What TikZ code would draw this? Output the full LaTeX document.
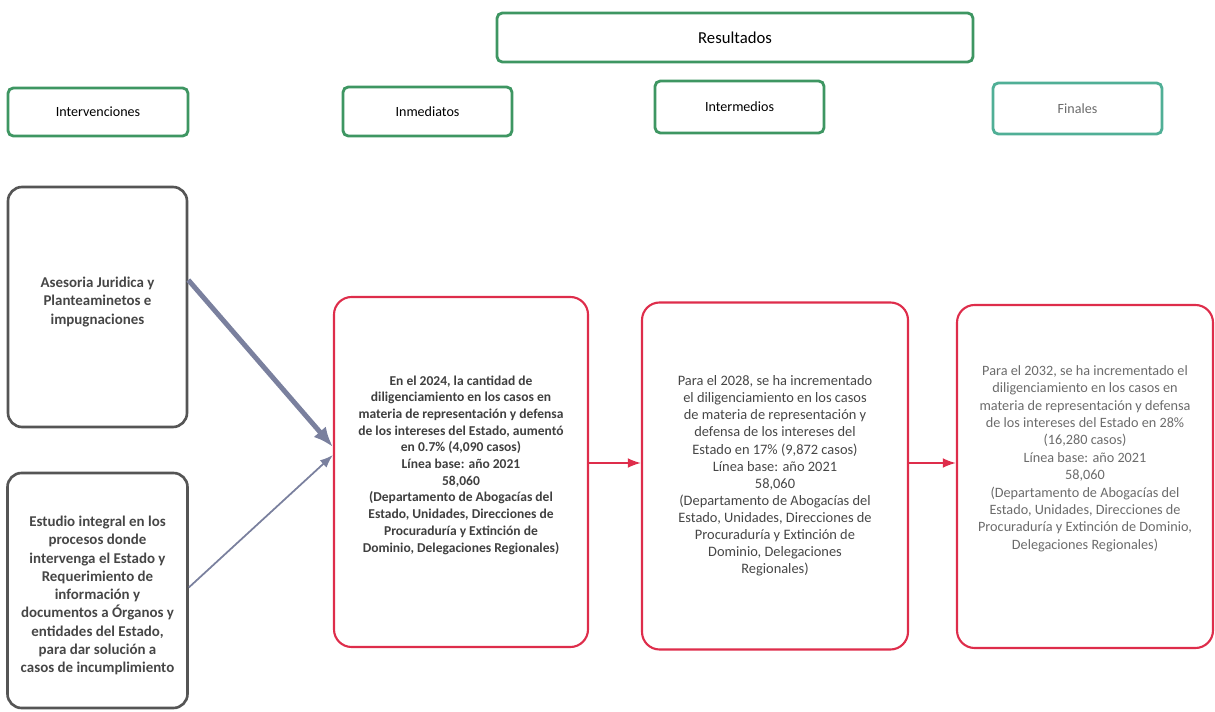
\documentclass[tikz,border=0pt]{standalone}
\usepackage{fontspec}
\setmainfont{Carlito}
\usetikzlibrary{positioning,arrows.meta}
\definecolor{hdrgreen}{RGB}{62,150,98}
\definecolor{fingreen}{RGB}{80,175,150}
\definecolor{intgray}{RGB}{85,85,85}
\definecolor{resred}{RGB}{222,45,75}
\definecolor{arrgray}{RGB}{122,128,158}
\definecolor{txtgray}{RGB}{70,70,70}
\begin{document}
\begin{tikzpicture}[font=\fontsize{8}{9.6}\selectfont,>=Latex,
      hdr/.style={draw=hdrgreen,line width=1.6pt,rounded corners=3pt,fill=white,align=center,inner sep=0pt},
      intbox/.style={draw=intgray,line width=1.5pt,rounded corners=8pt,align=center,inner sep=0pt,text=txtgray},
      resbox/.style={draw=resred,line width=1.2pt,rounded corners=10pt,align=center,inner sep=0pt,text=txtgray}]
    \useasboundingbox (0,0) rectangle (24.3,-14.24);
    % cabeceras
    \node[hdr,minimum width=95.2mm,minimum height=9.8mm,font=\fontsize{9.5}{11}\selectfont] (res) at (14.7,-0.75) {Resultados};
    \node[hdr,minimum width=36mm,minimum height=9.6mm] (interv) at (1.96,-2.24) {Intervenciones};
    \node[hdr,minimum width=33.8mm,minimum height=9.8mm] (inmed) at (8.55,-2.23) {Inmediatos};
    \node[hdr,minimum width=33.8mm,minimum height=10.4mm] (intermed) at (14.79,-2.14) {Intermedios};
    \node[hdr,draw=fingreen,minimum width=33.8mm,minimum height=10.2mm,text=txtgray!80] (finales) at (21.55,-2.17) {Finales};
    % intervenciones
    \node[intbox,minimum width=35.8mm,minimum height=48mm] (aseso) at (1.95,-6.14) {};
    \node[align=center,text=txtgray,font=\fontsize{8.5}{10.5}\selectfont\bfseries] (asesotxt) at ([yshift=1mm]aseso.center) {Asesoria Juridica y\\Planteaminetos e\\impugnaciones};
    \node[intbox,minimum width=36mm,minimum height=47mm] (estudio) at (1.95,-11.81) {};
    \node[align=center,text=txtgray,font=\fontsize{8.5}{10.4}\selectfont\bfseries] (estudiotxt) at ([yshift=-1mm]estudio.center) {Estudio integral en los\\procesos donde\\intervenga el Estado y\\Requerimiento de\\información y\\documentos a Órganos y\\entidades del Estado,\\para dar solución a\\casos de incumplimiento};
    % resultados
    \node[resbox,minimum width=50.8mm,minimum height=70mm] (inm) at (9.22,-9.44) {};
    \node[align=center,text=txtgray!90!black,font=\fontsize{7.7}{9.5}\selectfont\bfseries] (inmtxt) at ([yshift=1.4mm]inm.center) {En el 2024, la cantidad de\\diligenciamiento en los casos en\\materia de representación y defensa\\de los intereses del Estado, aumentó\\en 0.7\% (4,090 casos)\\Línea base: año 2021\\58,060\\(Departamento de Abogacías del\\Estado, Unidades, Direcciones de\\Procuraduría y Extinción de\\Dominio, Delegaciones Regionales)};
    \node[resbox,minimum width=53.2mm,minimum height=69.4mm] (int) at (15.5,-9.52) {};
    \node[align=center,text=txtgray,font=\fontsize{8.2}{9.75}\selectfont] (inttxt) at (int.center) {Para el 2028, se ha incrementado\\el diligenciamiento en los casos\\de materia de representación y\\defensa de los intereses del\\Estado en 17\% (9,872 casos)\\Línea base: año 2021\\58,060\\(Departamento de Abogacías del\\Estado, Unidades, Direcciones de\\Procuraduría y Extinción de\\Dominio, Delegaciones\\Regionales)};
    \node[resbox,minimum width=51.2mm,minimum height=68.6mm] (fin) at (21.7,-9.53) {};
    \node[align=center,text=txtgray!80,font=\fontsize{8.1}{9.9}\selectfont] (fintxt) at ([yshift=3.6mm]fin.center) {Para el 2032, se ha incrementado el\\diligenciamiento en los casos en\\materia de representación y defensa\\de los intereses del Estado en 28\%\\(16,280 casos)\\Línea base: año 2021\\58,060\\(Departamento de Abogacías del\\Estado, Unidades, Direcciones de\\Procuraduría y Extinción de Dominio,\\Delegaciones Regionales)};
    % flechas
    \draw[arrgray,line width=2.8pt,-{Latex[length=4mm,width=3.2mm]}] ([yshift=5.4mm]aseso.east) -- ([yshift=5mm]inm.west);
    \draw[->,arrgray,line width=1pt] ([yshift=0.6mm]estudio.east) -- ([yshift=3.4mm]inm.west);
    \draw[->,resred,line width=1pt] ([yshift=1.8mm]inm.east) -- ([yshift=1.8mm]inm.east -| int.west);
    \draw[->,resred,line width=1pt] ([yshift=1.8mm]inm.east -| int.east) -- ([yshift=1.8mm]inm.east -| fin.west);
  \end{tikzpicture}
\end{document}
